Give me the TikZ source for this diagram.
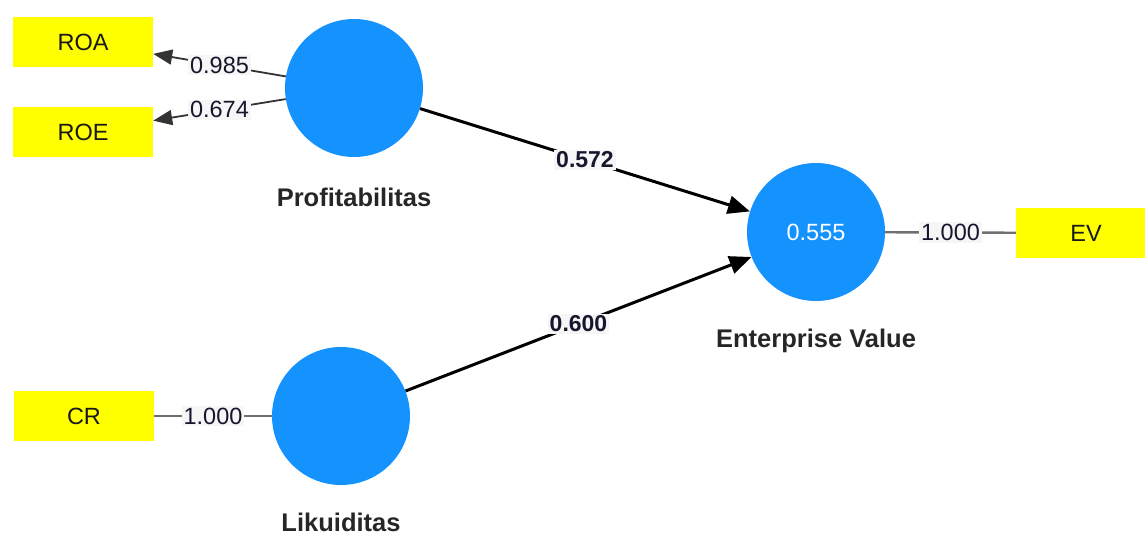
\documentclass[tikz,border=0pt]{standalone}
\usepackage{fontspec}
\setmainfont{Liberation Sans}
\usetikzlibrary{arrows.meta}
\definecolor{lvblue}{HTML}{1493FF}
\definecolor{indyellow}{HTML}{FFFF00}
\definecolor{labtext}{HTML}{16162C}
\definecolor{labfill}{HTML}{F6F6F6}
\definecolor{loadgray}{HTML}{707070}
\tikzset{
  latent/.style={circle, fill=lvblue, minimum size=138pt, inner sep=0pt,
    text=white, font=\fontsize{23.5}{28}\selectfont},
  indicator/.style={rectangle, fill=indyellow, minimum width=140pt,
    minimum height=50pt, inner sep=0pt, text=black!90,
    font=\fontsize{23.5}{28}\selectfont},
  lvname/.style={font=\bfseries\fontsize{25.5}{30}\selectfont, text=black!85},
  weight/.style={fill=labfill, inner sep=2pt, text=labtext,
    font=\fontsize{23.5}{28}\selectfont},
  pathweight/.style={weight, font=\bfseries\fontsize{23}{28}\selectfont},
  outerload/.style={draw=black!80, line width=1.8pt,
    -{Triangle[length=19pt,width=15pt]}},
  singleload/.style={draw=loadgray, line width=2.4pt},
  structural/.style={draw=black, line width=3pt,
    -{Triangle[length=22pt,width=18pt]}},
}
\begin{document}
\begin{tikzpicture}[x=1pt, y=-1pt]
  \useasboundingbox (0,0) rectangle (1145,535);
  \clip (0,0) rectangle (1145,535);

  % latent variables
  \node[latent] (prof) at (354,88) {};
  \node[latent] (liq)  at (341,416) {};
  \node[latent] (ev)   at (816,232) {0.555};

  \node[lvname] (proflab) at (354,197) {Profitabilitas};
  \node[lvname] (liqlab)  at (341,522) {Likuiditas};
  \node[lvname] (evlab)   at (816,341) {Enterprise Value};

  % indicators
  \node[indicator] (roa) at (83,42)   {ROA};
  \node[indicator] (roe) at (83,132)  {ROE};
  \node[indicator] (cr)  at (84,416)  {CR};
  \node[indicator] (evi) at (1086,233) {EV};

  % measurement model
  \draw[outerload] (prof) -- node[weight] {0.985} (roa);
  \draw[outerload] (prof) -- node[weight] {0.674} (roe);
  \draw[singleload] (cr) -- node[weight] {1.000} (liq);
  \draw[singleload] (ev) -- node[weight] {1.000} (evi);

  % structural model
  \draw[structural] (prof) -- node[pathweight] {0.572} (ev);
  \draw[structural] (liq) -- node[pathweight] {0.600} (ev);
\end{tikzpicture}
\end{document}
